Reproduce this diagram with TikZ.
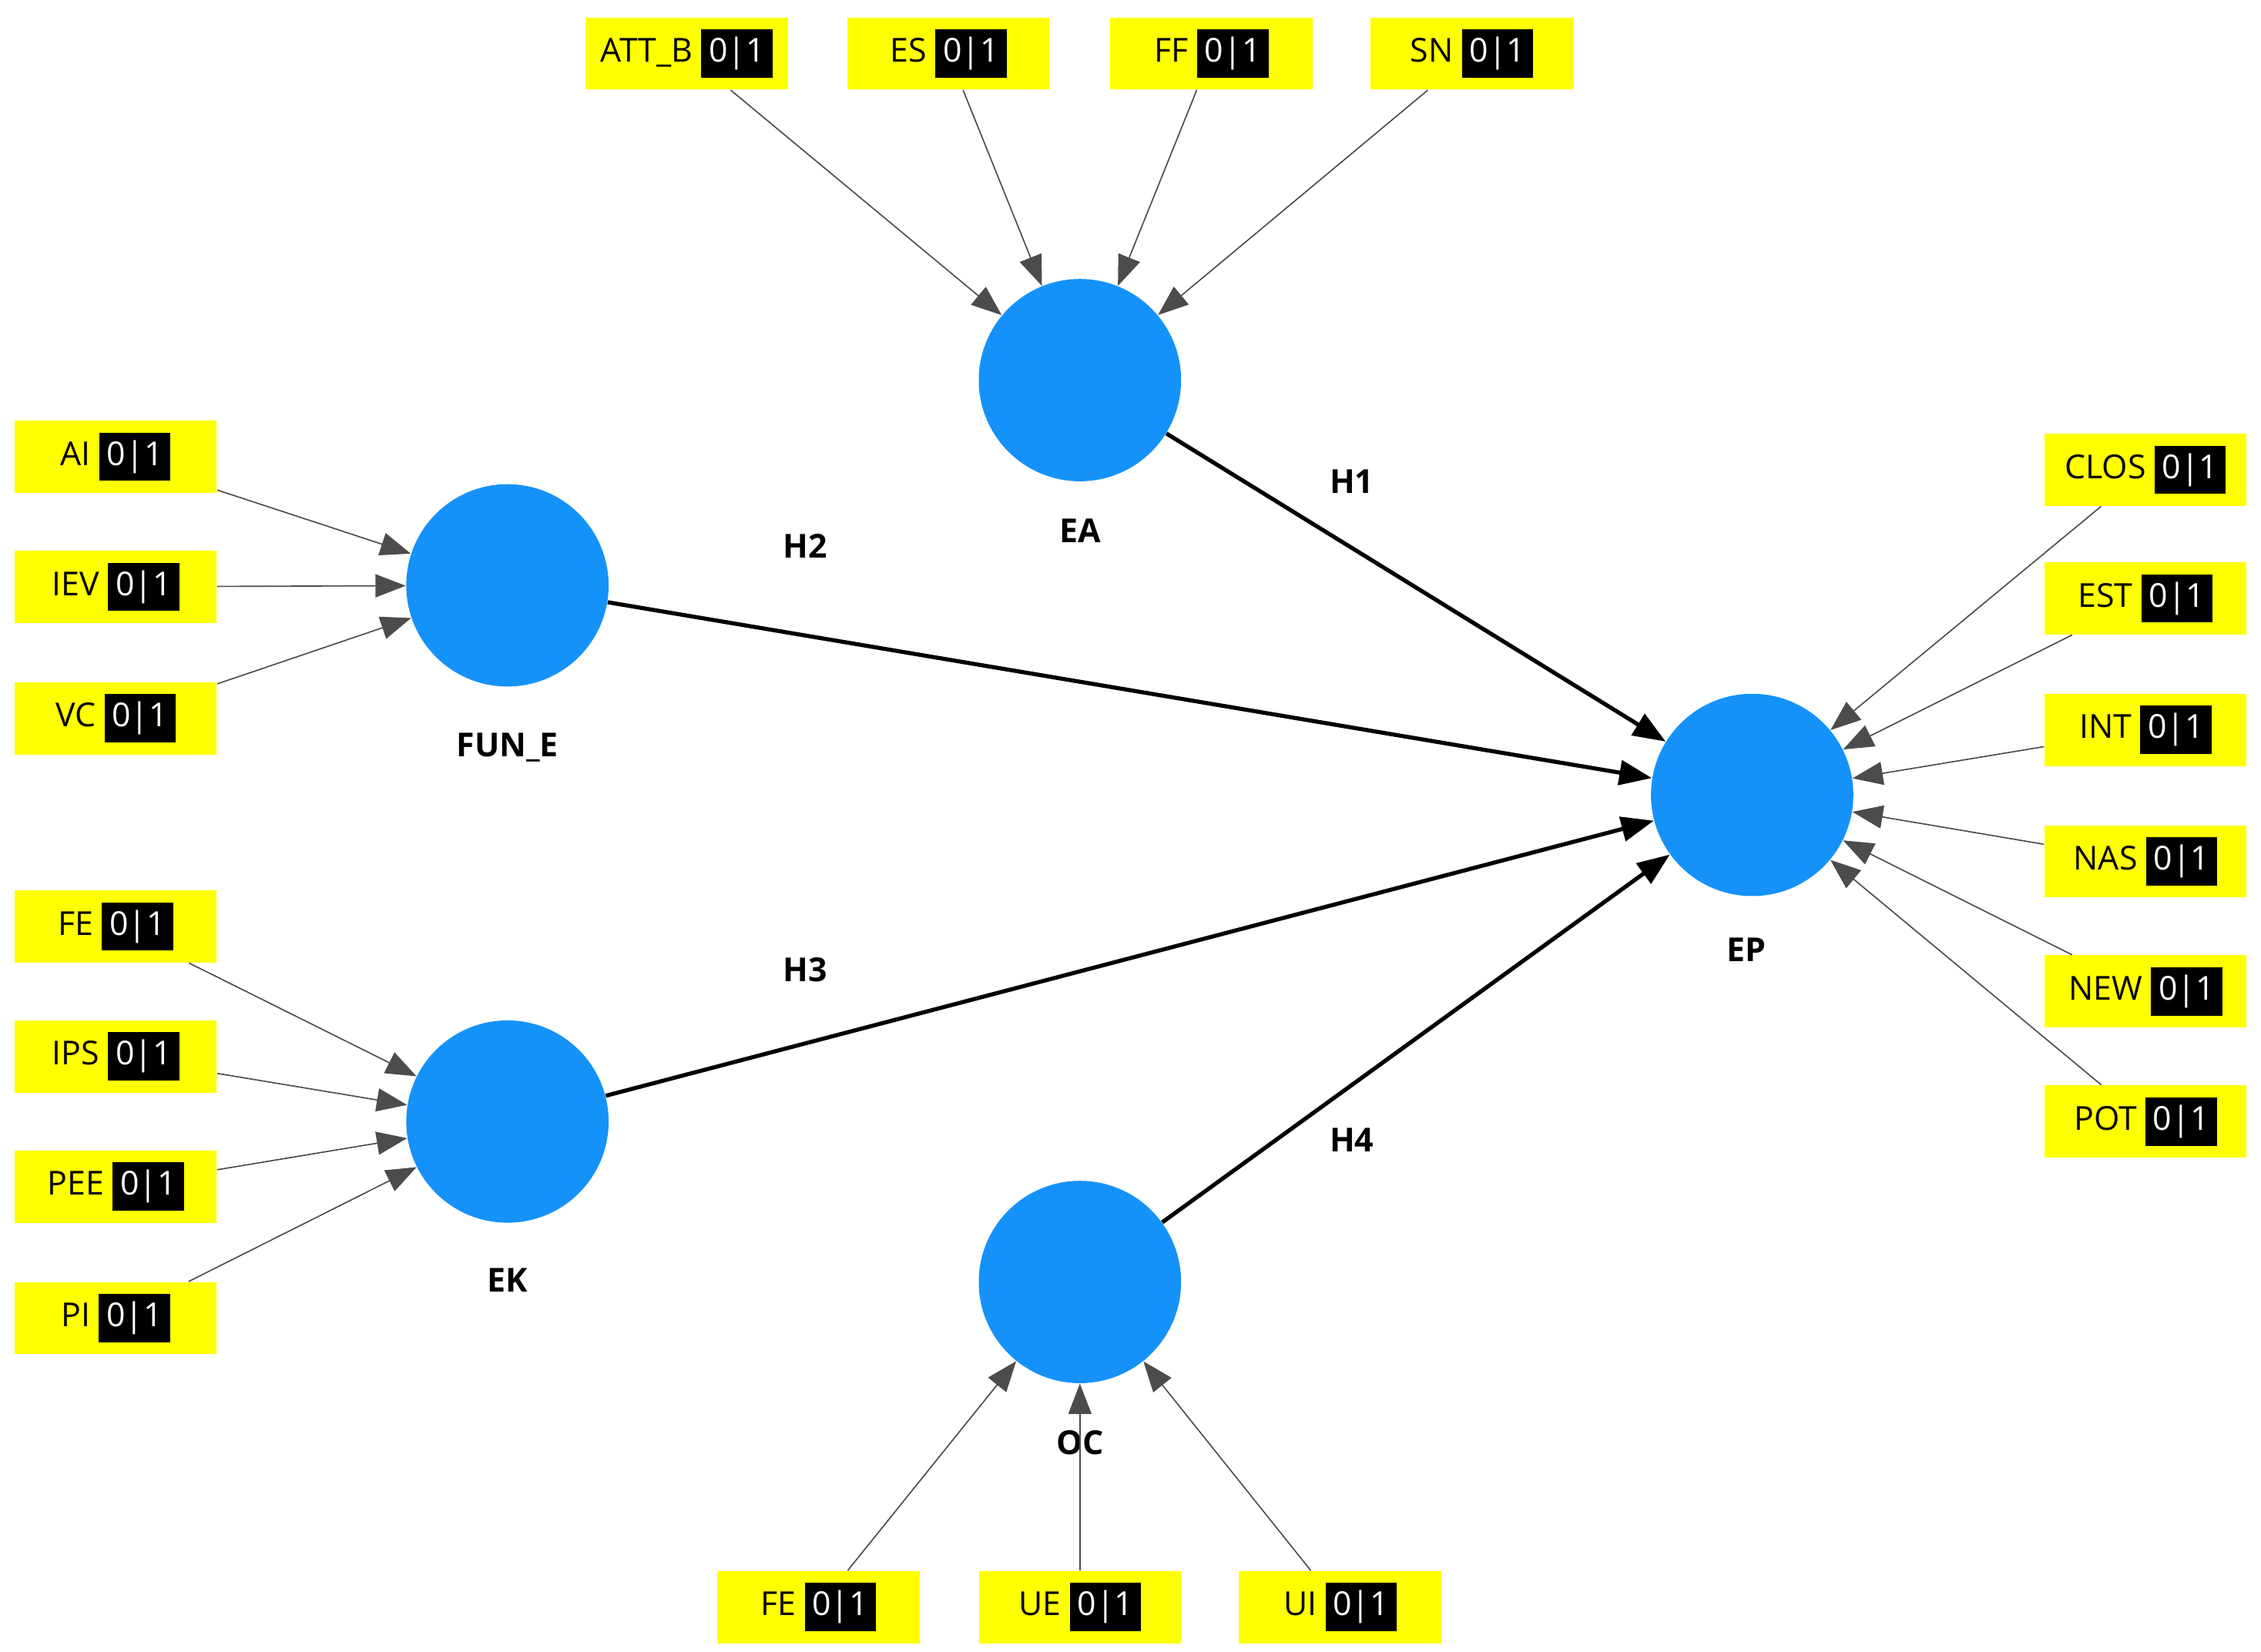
\documentclass[tikz,border=0pt]{standalone}
\usepackage{fontspec}
\setmainfont{Open Sans}
\usetikzlibrary{arrows.meta}
\definecolor{latblue}{HTML}{1592FA}
\definecolor{indyellow}{HTML}{FFFF00}
\newcommand{\ind}[1]{#1\ \colorbox{black}{\color{white}0|1}}
\tikzset{
    latent/.style = {circle, fill = latblue, minimum size = 2.8cm, inner sep = 0pt},
    indic/.style = {fill = indyellow, minimum width = 2.8cm, minimum height = 1cm, inner sep = 2pt, font = \fontsize{13}{15}\selectfont},
    lname/.style = {font = \bfseries\fontsize{13}{15}\selectfont},
    meas/.style = {-{Triangle[length = 0.42cm, width = 0.32cm]}, draw = black!70, line width = 0.5pt},
    path/.style = {-{Triangle[length = 0.45cm, width = 0.34cm]}, line width = 1.6pt}
}
\begin{document}
\begin{tikzpicture}[x = 0.02cm, y = -0.02cm]
\useasboundingbox (0,0) rectangle (1564,1143);
% latent variables
\node[latent] (ea) at (747,263) {};
\node[latent] (fun) at (351,405) {};
\node[latent] (ek) at (351,776) {};
\node[latent] (oc) at (747,887) {};
\node[latent] (ep) at (1212,550) {};
\node[lname] at (747,367) {EA};
\node[lname] at (351,517) {FUN\_E};
\node[lname] at (351,886) {EK};
\node[lname] at (747,998) {OC};
\node[lname] at (1208,657) {EP};
% indicators
\node[indic] (attb) at (475,37) {\ind{ATT\_B}};
\node[indic] (es) at (656,37) {\ind{ES}};
\node[indic] (ff) at (838,37) {\ind{FF}};
\node[indic] (sn) at (1018,37) {\ind{SN}};
\node[indic] (ai) at (80,316) {\ind{AI}};
\node[indic] (iev) at (80,406) {\ind{IEV}};
\node[indic] (vc) at (80,497) {\ind{VC}};
\node[indic] (fe) at (80,641) {\ind{FE}};
\node[indic] (ips) at (80,731) {\ind{IPS}};
\node[indic] (pee) at (80,821) {\ind{PEE}};
\node[indic] (pi) at (80,912) {\ind{PI}};
\node[indic] (clos) at (1484,325) {\ind{CLOS}};
\node[indic] (est) at (1484,414) {\ind{EST}};
\node[indic] (int) at (1484,505) {\ind{INT}};
\node[indic] (nas) at (1484,596) {\ind{NAS}};
\node[indic] (new) at (1484,686) {\ind{NEW}};
\node[indic] (pot) at (1484,776) {\ind{POT}};
\node[indic] (feo) at (566,1112) {\ind{FE}};
\node[indic] (ue) at (747,1112) {\ind{UE}};
\node[indic] (ui) at (927,1112) {\ind{UI}};
% arrows
\foreach \a in {attb, es, ff, sn} \draw[meas] (\a) -- (ea);
\foreach \a in {ai, iev, vc} \draw[meas] (\a) -- (fun);
\foreach \a in {fe, ips, pee, pi} \draw[meas] (\a) -- (ek);
\foreach \a in {clos, est, int, nas, new, pot} \draw[meas] (\a) -- (ep);
\foreach \a in {feo, ue, ui} \draw[meas] (\a) -- (oc);
\draw[path] (ea) -- (ep);
\draw[path] (fun) -- (ep);
\draw[path] (ek) -- (ep);
\draw[path] (oc) -- (ep);
\node[lname] at (935,333) {H1};
\node[lname] at (557,378) {H2};
\node[lname] at (557,671) {H3};
\node[lname] at (935,789) {H4};
\end{tikzpicture}
\end{document}
